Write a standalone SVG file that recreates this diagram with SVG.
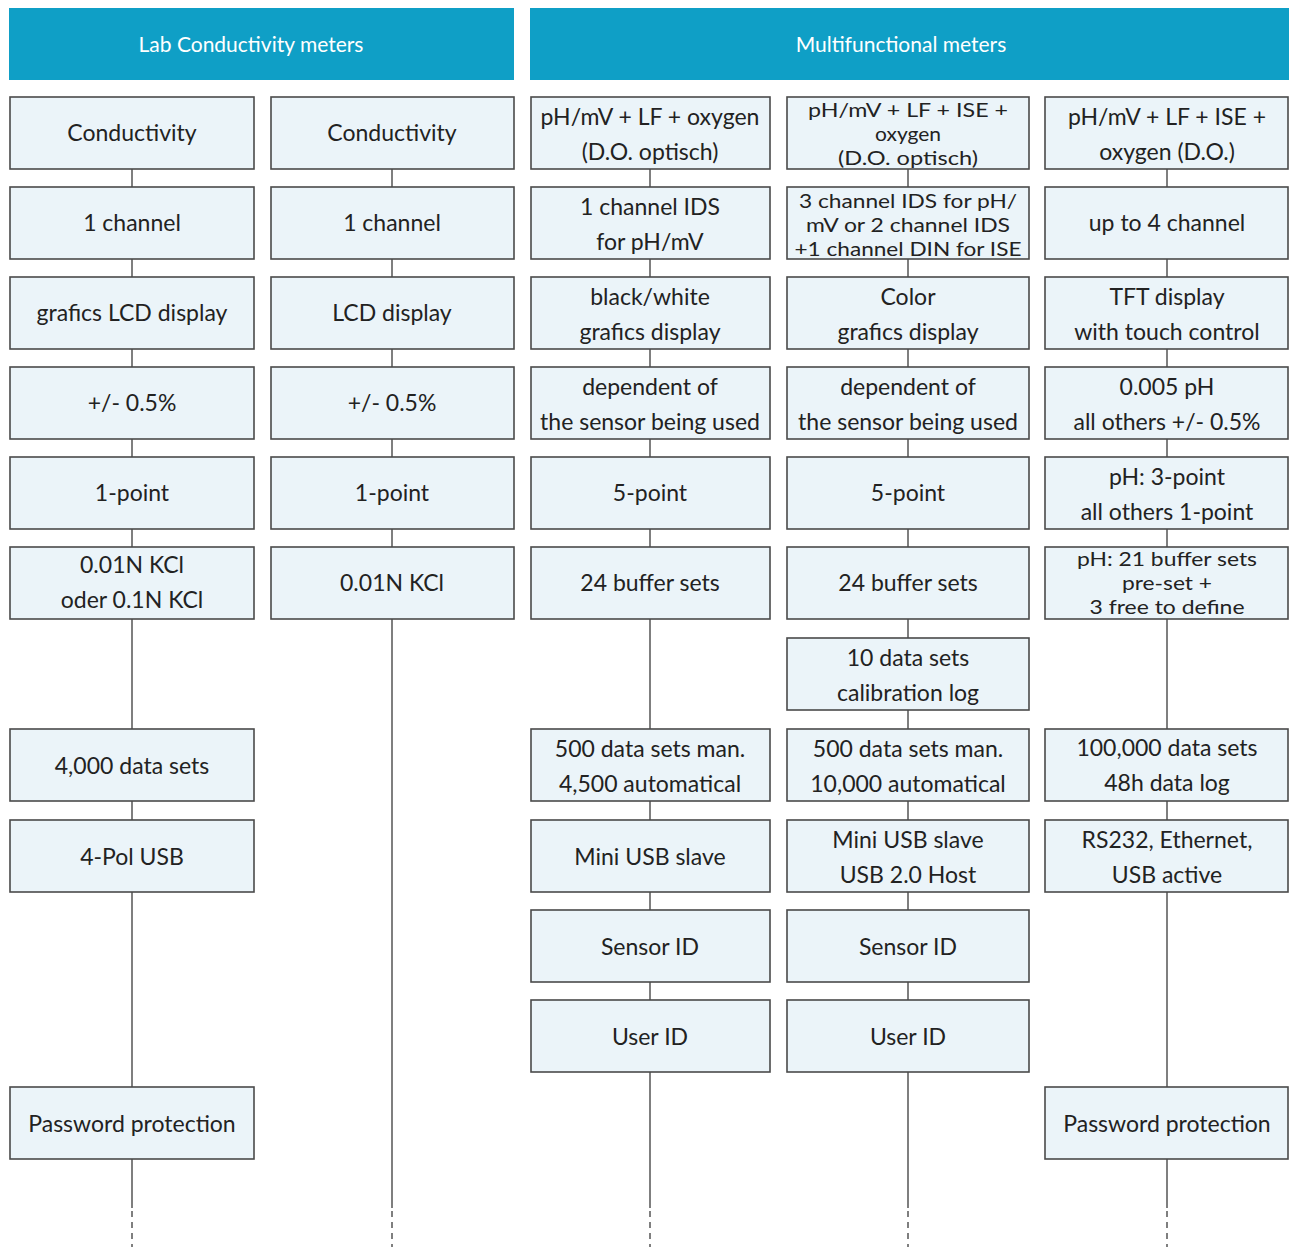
<svg xmlns="http://www.w3.org/2000/svg" width="1290" height="1247" viewBox="0 0 1290 1247">
<style>
.hdr{fill:#0f9fc6}
.ht{fill:#ffffff;font-family:Lato,"Open Sans",sans-serif;font-size:21px;text-anchor:middle}
.box{fill:#ebf4f9;stroke:#4a4a4a;stroke-width:1.6}
.t{fill:#222222;font-family:Lato,"Open Sans",sans-serif;font-size:23px;text-anchor:middle}
.t3{fill:#222222;font-family:Lato,"Open Sans",sans-serif;font-size:19.5px;text-anchor:middle}
.ln{stroke:#555555;stroke-width:1.5;fill:none}
.dl{stroke:#555555;stroke-width:1.5;fill:none;stroke-dasharray:6 5}
</style>
<rect width="1290" height="1247" fill="#ffffff"/>
<g id="header-lab">
<rect class="hdr" x="9" y="8" width="505" height="72"/>
<text class="ht" x="251" y="52">Lab Conductivity meters</text>
</g>
<g id="header-multi">
<rect class="hdr" x="530" y="8" width="759" height="72"/>
<text class="ht" x="901" y="52">Multifunctional meters</text>
</g>
<g id="connectors">
<line class="ln" x1="132" y1="169" x2="132" y2="1208"/>
<line class="dl" x1="132" y1="1211" x2="132" y2="1247"/>
<line class="ln" x1="392" y1="169" x2="392" y2="1208"/>
<line class="dl" x1="392" y1="1211" x2="392" y2="1247"/>
<line class="ln" x1="650" y1="169" x2="650" y2="1208"/>
<line class="dl" x1="650" y1="1211" x2="650" y2="1247"/>
<line class="ln" x1="908" y1="169" x2="908" y2="1208"/>
<line class="dl" x1="908" y1="1211" x2="908" y2="1247"/>
<line class="ln" x1="1167" y1="169" x2="1167" y2="1208"/>
<line class="dl" x1="1167" y1="1211" x2="1167" y2="1247"/>
</g>
<!-- Column 1 -->
<g id="c1r1"><rect class="box" x="10" y="97" width="244" height="72"/><text class="t" x="132" y="141">Conductivity</text></g>
<g id="c1r2"><rect class="box" x="10" y="187" width="244" height="72"/><text class="t" x="132" y="231">1 channel</text></g>
<g id="c1r3"><rect class="box" x="10" y="277" width="244" height="72"/><text class="t" x="132" y="321">grafics LCD display</text></g>
<g id="c1r4"><rect class="box" x="10" y="367" width="244" height="72"/><text class="t" x="132" y="411">+/- 0.5%</text></g>
<g id="c1r5"><rect class="box" x="10" y="457" width="244" height="72"/><text class="t" x="132" y="501">1-point</text></g>
<g id="c1r6"><rect class="box" x="10" y="547" width="244" height="72"/><text class="t" x="132" y="573">0.01N KCl</text><text class="t" x="132" y="608">oder 0.1N KCl</text></g>
<g id="c1r8"><rect class="box" x="10" y="729" width="244" height="72"/><text class="t" x="132" y="774">4,000 data sets</text></g>
<g id="c1r9"><rect class="box" x="10" y="820" width="244" height="72"/><text class="t" x="132" y="865">4-Pol USB</text></g>
<g id="c1r12"><rect class="box" x="10" y="1087" width="244" height="72"/><text class="t" x="132" y="1132">Password protection</text></g>
<!-- Column 2 -->
<g id="c2r1"><rect class="box" x="271" y="97" width="243" height="72"/><text class="t" x="392" y="141">Conductivity</text></g>
<g id="c2r2"><rect class="box" x="271" y="187" width="243" height="72"/><text class="t" x="392" y="231">1 channel</text></g>
<g id="c2r3"><rect class="box" x="271" y="277" width="243" height="72"/><text class="t" x="392" y="321">LCD display</text></g>
<g id="c2r4"><rect class="box" x="271" y="367" width="243" height="72"/><text class="t" x="392" y="411">+/- 0.5%</text></g>
<g id="c2r5"><rect class="box" x="271" y="457" width="243" height="72"/><text class="t" x="392" y="501">1-point</text></g>
<g id="c2r6"><rect class="box" x="271" y="547" width="243" height="72"/><text class="t" x="392" y="591">0.01N KCl</text></g>
<!-- Column 3 -->
<g id="c3r1"><rect class="box" x="531" y="97" width="239" height="72"/><text class="t" x="650" y="125">pH/mV + LF + oxygen</text><text class="t" x="650" y="160">(D.O. optisch)</text></g>
<g id="c3r2"><rect class="box" x="531" y="187" width="239" height="72"/><text class="t" x="650" y="215">1 channel IDS</text><text class="t" x="650" y="250">for pH/mV</text></g>
<g id="c3r3"><rect class="box" x="531" y="277" width="239" height="72"/><text class="t" x="650" y="305">black/white</text><text class="t" x="650" y="340">grafics display</text></g>
<g id="c3r4"><rect class="box" x="531" y="367" width="239" height="72"/><text class="t" x="650" y="395">dependent of</text><text class="t" x="650" y="430">the sensor being used</text></g>
<g id="c3r5"><rect class="box" x="531" y="457" width="239" height="72"/><text class="t" x="650" y="501">5-point</text></g>
<g id="c3r6"><rect class="box" x="531" y="547" width="239" height="72"/><text class="t" x="650" y="591">24 buffer sets</text></g>
<g id="c3r8"><rect class="box" x="531" y="729" width="239" height="72"/><text class="t" x="650" y="757">500 data sets man.</text><text class="t" x="650" y="792">4,500 automatical</text></g>
<g id="c3r9"><rect class="box" x="531" y="820" width="239" height="72"/><text class="t" x="650" y="865">Mini USB slave</text></g>
<g id="c3r10"><rect class="box" x="531" y="910" width="239" height="72"/><text class="t" x="650" y="955">Sensor ID</text></g>
<g id="c3r11"><rect class="box" x="531" y="1000" width="239" height="72"/><text class="t" x="650" y="1045">User ID</text></g>
<!-- Column 4 -->
<g id="c4r1"><rect class="box" x="787" y="97" width="242" height="72"/><text class="t3" x="908" y="117" textLength="200" lengthAdjust="spacingAndGlyphs">pH/mV + LF + ISE +</text><text class="t3" x="908" y="141" textLength="66" lengthAdjust="spacingAndGlyphs">oxygen</text><text class="t3" x="908" y="165" textLength="140" lengthAdjust="spacingAndGlyphs">(D.O. optisch)</text></g>
<g id="c4r2"><rect class="box" x="787" y="187" width="242" height="72"/><text class="t3" x="908" y="208" textLength="218" lengthAdjust="spacingAndGlyphs">3 channel IDS for pH/</text><text class="t3" x="908" y="232" textLength="204" lengthAdjust="spacingAndGlyphs">mV or 2 channel IDS</text><text class="t3" x="908" y="256" textLength="227" lengthAdjust="spacingAndGlyphs">+1 channel DIN for ISE</text></g>
<g id="c4r3"><rect class="box" x="787" y="277" width="242" height="72"/><text class="t" x="908" y="305">Color</text><text class="t" x="908" y="340">grafics display</text></g>
<g id="c4r4"><rect class="box" x="787" y="367" width="242" height="72"/><text class="t" x="908" y="395">dependent of</text><text class="t" x="908" y="430">the sensor being used</text></g>
<g id="c4r5"><rect class="box" x="787" y="457" width="242" height="72"/><text class="t" x="908" y="501">5-point</text></g>
<g id="c4r6"><rect class="box" x="787" y="547" width="242" height="72"/><text class="t" x="908" y="591">24 buffer sets</text></g>
<g id="c4r7"><rect class="box" x="787" y="638" width="242" height="72"/><text class="t" x="908" y="666">10 data sets</text><text class="t" x="908" y="701">calibration log</text></g>
<g id="c4r8"><rect class="box" x="787" y="729" width="242" height="72"/><text class="t" x="908" y="757">500 data sets man.</text><text class="t" x="908" y="792">10,000 automatical</text></g>
<g id="c4r9"><rect class="box" x="787" y="820" width="242" height="72"/><text class="t" x="908" y="848">Mini USB slave</text><text class="t" x="908" y="883">USB 2.0 Host</text></g>
<g id="c4r10"><rect class="box" x="787" y="910" width="242" height="72"/><text class="t" x="908" y="955">Sensor ID</text></g>
<g id="c4r11"><rect class="box" x="787" y="1000" width="242" height="72"/><text class="t" x="908" y="1045">User ID</text></g>
<!-- Column 5 -->
<g id="c5r1"><rect class="box" x="1045" y="97" width="243" height="72"/><text class="t" x="1167" y="125">pH/mV + LF + ISE +</text><text class="t" x="1167" y="160">oxygen (D.O.)</text></g>
<g id="c5r2"><rect class="box" x="1045" y="187" width="243" height="72"/><text class="t" x="1167" y="231">up to 4 channel</text></g>
<g id="c5r3"><rect class="box" x="1045" y="277" width="243" height="72"/><text class="t" x="1167" y="305">TFT display</text><text class="t" x="1167" y="340">with touch control</text></g>
<g id="c5r4"><rect class="box" x="1045" y="367" width="243" height="72"/><text class="t" x="1167" y="395">0.005 pH</text><text class="t" x="1167" y="430">all others +/- 0.5%</text></g>
<g id="c5r5"><rect class="box" x="1045" y="457" width="243" height="72"/><text class="t" x="1167" y="485">pH: 3-point</text><text class="t" x="1167" y="520">all others 1-point</text></g>
<g id="c5r6"><rect class="box" x="1045" y="547" width="243" height="72"/><text class="t3" x="1167" y="566" textLength="180" lengthAdjust="spacingAndGlyphs">pH: 21 buffer sets</text><text class="t3" x="1167" y="590" textLength="90" lengthAdjust="spacingAndGlyphs">pre-set +</text><text class="t3" x="1167" y="614" textLength="155" lengthAdjust="spacingAndGlyphs">3 free to define</text></g>
<g id="c5r8"><rect class="box" x="1045" y="729" width="243" height="72"/><text class="t" x="1167" y="756">100,000 data sets</text><text class="t" x="1167" y="791">48h data log</text></g>
<g id="c5r9"><rect class="box" x="1045" y="820" width="243" height="72"/><text class="t" x="1167" y="848">RS232, Ethernet,</text><text class="t" x="1167" y="883">USB active</text></g>
<g id="c5r12"><rect class="box" x="1045" y="1087" width="243" height="72"/><text class="t" x="1167" y="1132">Password protection</text></g>
</svg>
